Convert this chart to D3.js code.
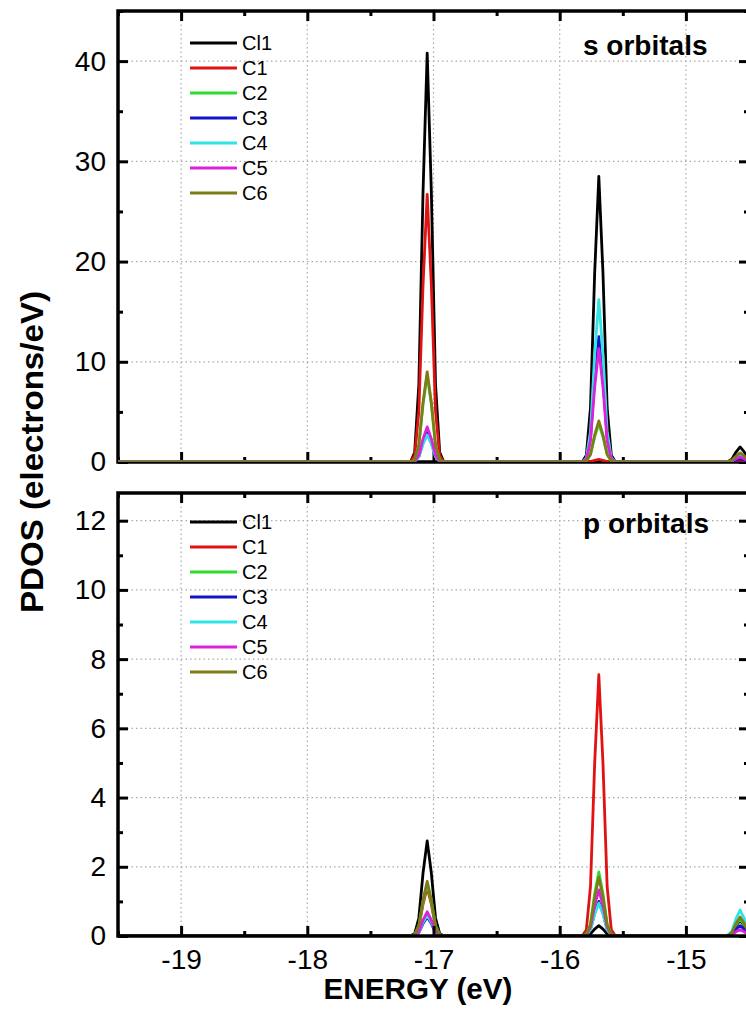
<!DOCTYPE html>
<html>
<head>
<meta charset="utf-8">
<script src="https://cdn.jsdelivr.net/npm/d3@7"></script>
<style>
  html, body { margin: 0; padding: 0; background: #fff; }
  svg { display: block; font-family: "Liberation Sans", Arial, sans-serif; }
</style>
</head>
<body>
<svg id="chart" width="746" height="1010"></svg>
<script>
// ---------------- DATA ----------------
const energy = [-19.5,
  -17.182, -17.149, -17.116, -17.083, -17.05, -17.017, -16.984, -16.951, -16.918,
  -15.822, -15.789, -15.756, -15.723, -15.69, -15.657, -15.624, -15.591, -15.558,
  -14.702, -14.669, -14.636, -14.603, -14.57, -14.537, -14.504, -14.471, -14.438];

const seriesNames = ["Cl1", "C1", "C2", "C3", "C4", "C5", "C6"];

// s orbitals PDOS (electrons/eV)
const sCl1 = [0, 0,0.98,7.75,26.93,40.8,26.93,7.75,0.98,0, 0,0.68,5.42,18.81,28.5,18.81,5.42,0.68,0, 0,0.04,0.29,0.99,1.5,0.99,0.29,0.04,0];
const sC1  = [0, 0,0.64,5.07,17.62,26.7,17.62,5.07,0.64,0, 0,0.01,0.05,0.17,0.25,0.17,0.05,0.01,0, 0,0.00,0.04,0.13,0.2,0.13,0.04,0.00,0];
const sC2  = [0, 0,0.21,1.65,5.74,8.7,5.74,1.65,0.21,0, 0,0.09,0.72,2.51,3.8,2.51,0.72,0.09,0, 0,0.02,0.15,0.53,0.8,0.53,0.15,0.02,0];
const sC3  = [0, 0,0.07,0.55,1.91,2.9,1.91,0.55,0.07,0, 0,0.30,2.38,8.25,12.5,8.25,2.38,0.30,0, 0,0.01,0.06,0.20,0.3,0.20,0.06,0.01,0];
const sC4  = [0, 0,0.06,0.51,1.78,2.7,1.78,0.51,0.06,0, 0,0.39,3.08,10.69,16.2,10.69,3.08,0.39,0, 0,0.01,0.11,0.40,0.6,0.40,0.11,0.01,0];
const sC5  = [0, 0,0.08,0.67,2.31,3.5,2.31,0.67,0.08,0, 0,0.27,2.15,7.46,11.3,7.46,2.15,0.27,0, 0,0.01,0.10,0.33,0.5,0.33,0.10,0.01,0];
const sC6  = [0, 0,0.22,1.71,5.94,9.0,5.94,1.71,0.22,0, 0,0.10,0.78,2.71,4.1,2.71,0.78,0.10,0, 0,0.02,0.17,0.59,0.9,0.59,0.17,0.02,0];

// p orbitals PDOS (electrons/eV)
const pCl1 = [0, 0,0.07,0.52,1.82,2.75,1.82,0.52,0.07,0, 0,0.01,0.06,0.20,0.3,0.20,0.06,0.01,0, 0,0.01,0.09,0.30,0.45,0.30,0.09,0.01,0];
const pC1  = [0, 0,0.03,0.27,0.92,1.4,0.92,0.27,0.03,0, 0,0.18,1.43,4.98,7.55,4.98,1.43,0.18,0, 0,0.01,0.10,0.33,0.5,0.33,0.10,0.01,0];
const pC2  = [0, 0,0.04,0.29,0.99,1.5,0.99,0.29,0.04,0, 0,0.04,0.35,1.22,1.85,1.22,0.35,0.04,0, 0,0.01,0.10,0.33,0.5,0.33,0.10,0.01,0];
const pC3  = [0, 0,0.01,0.10,0.36,0.55,0.36,0.10,0.01,0, 0,0.02,0.19,0.66,1.0,0.66,0.19,0.02,0, 0,0.01,0.06,0.20,0.3,0.20,0.06,0.01,0];
const pC4  = [0, 0,0.01,0.11,0.40,0.6,0.40,0.11,0.01,0, 0,0.02,0.18,0.63,0.95,0.63,0.18,0.02,0, 0,0.02,0.14,0.50,0.75,0.50,0.14,0.02,0];
const pC5  = [0, 0,0.02,0.13,0.46,0.7,0.46,0.13,0.02,0, 0,0.03,0.25,0.88,1.33,0.88,0.25,0.03,0, 0,0.00,0.03,0.12,0.18,0.12,0.03,0.00,0];
const pC6  = [0, 0,0.04,0.30,1.04,1.58,1.04,0.30,0.04,0, 0,0.04,0.32,1.12,1.7,1.12,0.32,0.04,0, 0,0.01,0.10,0.36,0.55,0.36,0.10,0.01,0];

const xMajorTicks = [-19, -18, -17, -16, -15];
const xMinorTicks = [-19.5, -18.5, -17.5, -16.5, -15.5, -14.5];
const sYMajorTicks = [0, 10, 20, 30, 40];
const sYMinorTicks = [5, 15, 25, 35, 45];
const pYMajorTicks = [0, 2, 4, 6, 8, 10, 12];
const pYMinorTicks = [1, 3, 5, 7, 9, 11];

const panelTitles = ["s orbitals", "p orbitals"];
const xTitle = "ENERGY (eV)";
const yTitle = "PDOS (electrons/eV)";

// ---------------- STYLE ----------------
const palette = ["#000000", "#e01212", "#2edc2e", "#1515c8", "#30e4e4", "#dc20dc", "#7c7c18"];

const svg = d3.select("#chart");
const x = d3.scaleLinear().domain([-19.5, -14.5]).range([118, 749]);

const panels = [
  { id: "s", series: [sCl1, sC1, sC2, sC3, sC4, sC5, sC6],
    y: d3.scaleLinear().domain([0, 45]).range([462, 11]),
    majors: sYMajorTicks, minors: sYMinorTicks, title: panelTitles[0],
    titleY: 55, legendY: 43, dataOnTop: true, xLabels: false },
  { id: "p", series: [pCl1, pC1, pC2, pC3, pC4, pC5, pC6],
    y: d3.scaleLinear().domain([0, 12.8]).range([936, 493]),
    majors: pYMajorTicks, minors: pYMinorTicks, title: panelTitles[1],
    titleY: 533, legendY: 522, dataOnTop: false, xLabels: true }
];

panels.forEach(P => {
  const y = P.y;
  const [x0, x1] = x.range();
  const [yb, yt] = y.range();
  const g = svg.append("g");

  g.append("clipPath").attr("id", "clip-" + P.id)
    .append("rect").attr("x", x0).attr("y", yt).attr("width", x1 - x0).attr("height", yb - yt);

  // grid
  const grid = g.append("g").attr("stroke", "#aaaaaa").attr("stroke-width", 1.2)
    .attr("stroke-dasharray", "1.5,3");
  grid.selectAll(".gx").data(xMajorTicks).join("line")
    .attr("x1", d => x(d)).attr("x2", d => x(d)).attr("y1", yt).attr("y2", yb);
  grid.selectAll(".gy").data(P.majors.filter(d => d > 0)).join("line")
    .attr("x1", x0).attr("x2", x1).attr("y1", d => y(d)).attr("y2", d => y(d));

  const line = d3.line().x((d, i) => x(energy[i])).y(d => y(d));
  const drawData = () => {
    const dg = g.append("g").attr("clip-path", `url(#clip-${P.id})`);
    P.series.forEach((vals, i) => {
      dg.append("path").datum(vals).attr("d", line)
        .attr("fill", "none").attr("stroke", palette[i])
        .attr("stroke-width", 2.8).attr("stroke-linejoin", "round");
    });
  };

  const drawAxes = () => {
    const ag = g.append("g");
    const styleAxis = sel => {
      sel.select(".domain").remove();
      sel.selectAll(".tick line").attr("stroke", "#000").attr("stroke-width", 3);
      sel.selectAll(".tick text").attr("fill", "#000")
        .style("font-family", '"Liberation Sans", Arial, sans-serif')
        .style("font-size", "28px");
    };
    // bottom
    ag.append("g").attr("transform", `translate(0,${yb})`)
      .call(d3.axisBottom(x).tickValues(xMajorTicks).tickSizeInner(-10).tickSizeOuter(0)
        .tickPadding(13).tickFormat(d => P.xLabels ? String(d) : ""))
      .call(styleAxis);
    ag.append("g").attr("transform", `translate(0,${yb})`)
      .call(d3.axisBottom(x).tickValues(xMinorTicks).tickSizeInner(-5).tickSizeOuter(0).tickFormat(""))
      .call(styleAxis);
    // top
    ag.append("g").attr("transform", `translate(0,${yt})`)
      .call(d3.axisTop(x).tickValues(xMajorTicks).tickSizeInner(-10).tickSizeOuter(0).tickFormat(""))
      .call(styleAxis);
    ag.append("g").attr("transform", `translate(0,${yt})`)
      .call(d3.axisTop(x).tickValues(xMinorTicks).tickSizeInner(-5).tickSizeOuter(0).tickFormat(""))
      .call(styleAxis);
    // left
    ag.append("g").attr("transform", `translate(${x0},0)`)
      .call(d3.axisLeft(y).tickValues(P.majors).tickSizeInner(-10).tickSizeOuter(0)
        .tickPadding(12).tickFormat(d => String(d)))
      .call(styleAxis);
    ag.append("g").attr("transform", `translate(${x0},0)`)
      .call(d3.axisLeft(y).tickValues(P.minors).tickSizeInner(-5).tickSizeOuter(0).tickFormat(""))
      .call(styleAxis);
    // right
    ag.append("g").attr("transform", `translate(${x1},0)`)
      .call(d3.axisRight(y).tickValues(P.majors).tickSizeInner(-10).tickSizeOuter(0).tickFormat(""))
      .call(styleAxis);
    ag.append("g").attr("transform", `translate(${x1},0)`)
      .call(d3.axisRight(y).tickValues(P.minors).tickSizeInner(-5).tickSizeOuter(0).tickFormat(""))
      .call(styleAxis);
    // frame
    ag.append("rect").attr("x", x0).attr("y", yt).attr("width", x1 - x0).attr("height", yb - yt)
      .attr("fill", "none").attr("stroke", "#000").attr("stroke-width", 3.5);
  };

  if (P.dataOnTop) { drawAxes(); drawData(); } else { drawData(); drawAxes(); }

  // legend
  const lg = g.append("g");
  seriesNames.forEach((name, i) => {
    const ly = P.legendY + i * 25;
    lg.append("line").attr("x1", 190).attr("x2", 237).attr("y1", ly).attr("y2", ly)
      .attr("stroke", palette[i]).attr("stroke-width", 2.8);
    lg.append("text").attr("x", 242).attr("y", ly).attr("dy", "0.36em")
      .attr("font-size", 20).attr("fill", "#000").text(name);
  });

  // panel title
  g.append("text").attr("x", 583).attr("y", P.titleY)
    .attr("font-size", 28).attr("font-weight", "bold").attr("fill", "#000").text(P.title);
});

// axis titles
svg.append("text").attr("x", 418).attr("y", 999).attr("text-anchor", "middle")
  .attr("font-size", 30).attr("font-weight", "bold").attr("fill", "#000")
  .attr("textLength", 189).attr("lengthAdjust", "spacingAndGlyphs").text(xTitle);
svg.append("text").attr("transform", "translate(43,452) rotate(-90)").attr("text-anchor", "middle")
  .attr("font-size", 31).attr("font-weight", "bold").attr("fill", "#000")
  .attr("textLength", 322).attr("lengthAdjust", "spacingAndGlyphs").text(yTitle);
</script>
</body>
</html>
